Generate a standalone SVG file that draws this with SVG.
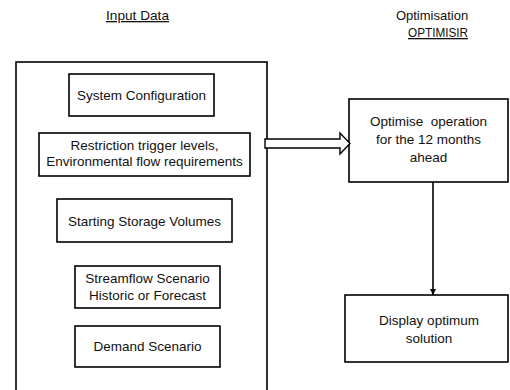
<svg xmlns="http://www.w3.org/2000/svg" width="510" height="390" viewBox="0 0 510 390">
<style>
text{font-family:"Liberation Sans",Arial,sans-serif;font-size:13.5px;fill:#111;text-anchor:middle;white-space:pre}
.hd{font-size:13px}
.u{text-decoration:underline}
.box{fill:#fff;stroke:#000;stroke-width:1.6}
.ln{fill:none;stroke:#000;stroke-width:1.6}
</style>
<defs>
<marker id="ah" viewBox="0 0 10 10" refX="10" refY="5" markerWidth="4" markerHeight="4" orient="auto" markerUnits="strokeWidth">
<path d="M0,0 L10,5 L0,10 z" fill="#000"/>
</marker>
</defs>
<rect width="510" height="390" fill="#fff"/>
<g id="titles">
<text class="hd u" x="137.5" y="20" textLength="63" lengthAdjust="spacingAndGlyphs">Input Data</text>
<text class="hd" x="432" y="20">Optimisation</text>
<text class="hd u" x="438" y="37" textLength="60" lengthAdjust="spacingAndGlyphs">OPTIMISIR</text>
</g>
<g id="input-data">
<rect class="box" x="16" y="62" width="251" height="340"/>
</g>
<g id="system-configuration">
<rect class="box" x="69" y="74" width="145" height="42"/>
<text x="141.5" y="99.5">System Configuration</text>
</g>
<g id="restriction">
<rect class="box" x="39" y="133" width="211" height="43"/>
<text x="144.5" y="149.5">Restriction trigger levels,</text>
<text x="144.5" y="166">Environmental flow requirements</text>
</g>
<g id="starting-storage">
<rect class="box" x="57" y="199" width="175" height="43"/>
<text x="144.5" y="225.5">Starting Storage Volumes</text>
</g>
<g id="streamflow">
<rect class="box" x="75" y="266" width="145" height="42"/>
<text x="147.5" y="282.5">Streamflow Scenario</text>
<text x="147.5" y="300">Historic or Forecast</text>
</g>
<g id="demand">
<rect class="box" x="75" y="326" width="145" height="41"/>
<text x="147.5" y="351">Demand Scenario</text>
</g>
<g id="optimise">
<rect class="box" x="349" y="99" width="159" height="83"/>
<text x="428.5" y="126">Optimise  operation</text>
<text x="428.5" y="144">for the 12 months</text>
<text x="428.5" y="162">ahead</text>
</g>
<g id="display">
<rect class="box" x="345" y="295" width="163" height="67"/>
<text x="429" y="325">Display optimum</text>
<text x="429" y="343">solution</text>
</g>
<g id="connectors">
<path d="M265,139 H340 V133 L350,143.5 L340,154 V148 H265 Z" fill="#fff" stroke="#000" stroke-width="1.4" stroke-linejoin="miter"/>
<line class="ln" x1="433" y1="182" x2="433" y2="295" marker-end="url(#ah)"/>
</g>
</svg>
